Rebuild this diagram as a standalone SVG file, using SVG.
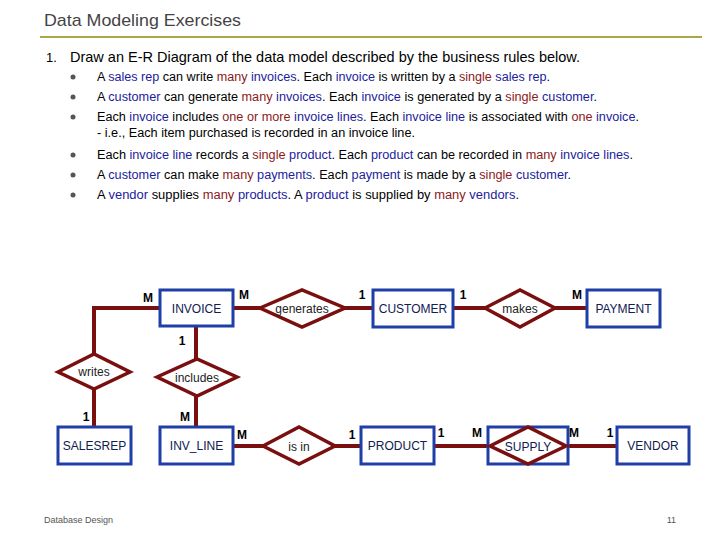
<svg xmlns="http://www.w3.org/2000/svg" width="720" height="540" viewBox="0 0 720 540">
<style>
.t{font-family:"Liberation Sans",sans-serif;fill:#000}
.b{fill:#1c1c9c}.r{fill:#8b1a1a}
.ent rect{fill:#fff;stroke:#1f3fa8;stroke-width:3}
.ent text{font-family:"Liberation Sans",sans-serif;font-size:12px;fill:#102050;text-anchor:middle}
.rel polygon{fill:#fff;stroke:#7a0f10;stroke-width:3.5}
.rel text{font-family:"Liberation Sans",sans-serif;font-size:12px;fill:#222;text-anchor:middle}
.c{stroke:#7a0f10;stroke-width:4;fill:none}
.k{font-family:"Liberation Sans",sans-serif;font-size:12px;fill:#000;font-weight:bold;text-anchor:middle}
</style>
<rect width="720" height="540" fill="#fff"/>
<text x="44" y="26" class="t" style="font-size:17px;fill:#444" textLength="197" lengthAdjust="spacingAndGlyphs">Data Modeling Exercises</text>
<line x1="40" y1="37" x2="702" y2="37" stroke="#a8a848" stroke-width="2"/>
<text x="46" y="62" class="t" style="font-size:13px">1.</text>
<text x="70" y="62" class="t" style="font-size:15px" textLength="510" lengthAdjust="spacingAndGlyphs">Draw an E-R Diagram of the data model described by the business rules below.</text>
<g class="t" style="font-size:12.5px">
<circle cx="73" cy="77" r="2.5" fill="#555"/><circle cx="73" cy="97" r="2.5" fill="#555"/><circle cx="73" cy="117" r="2.5" fill="#555"/><circle cx="73" cy="155" r="2.5" fill="#555"/><circle cx="73" cy="175" r="2.5" fill="#555"/><circle cx="73" cy="195" r="2.5" fill="#555"/>
<text x="97" y="81" textLength="453" lengthAdjust="spacingAndGlyphs">A <tspan class="b">sales rep</tspan> can write <tspan class="r">many</tspan> <tspan class="b">invoices</tspan>. Each <tspan class="b">invoice</tspan> is written by a <tspan class="r">single</tspan> <tspan class="b">sales rep</tspan>.</text>
<text x="97" y="101" textLength="500" lengthAdjust="spacingAndGlyphs">A <tspan class="b">customer</tspan> can generate <tspan class="r">many</tspan> <tspan class="b">invoices</tspan>. Each <tspan class="b">invoice</tspan> is generated by a <tspan class="r">single</tspan> <tspan class="b">customer</tspan>.</text>
<text x="97" y="121" textLength="542" lengthAdjust="spacingAndGlyphs">Each <tspan class="b">invoice</tspan> includes <tspan class="r">one or more</tspan> <tspan class="b">invoice lines</tspan>. Each <tspan class="b">invoice line</tspan> is associated with <tspan class="r">one</tspan> <tspan class="b">invoice</tspan>.</text>
<text x="97" y="137" textLength="318" lengthAdjust="spacingAndGlyphs">- i.e., Each item purchased is recorded in an invoice line.</text>
<text x="97" y="159" textLength="536" lengthAdjust="spacingAndGlyphs">Each <tspan class="b">invoice line</tspan> records a <tspan class="r">single</tspan> <tspan class="b">product</tspan>. Each <tspan class="b">product</tspan> can be recorded in <tspan class="r">many</tspan> <tspan class="b">invoice lines</tspan>.</text>
<text x="97" y="179" textLength="474" lengthAdjust="spacingAndGlyphs">A <tspan class="b">customer</tspan> can make <tspan class="r">many</tspan> <tspan class="b">payments</tspan>. Each <tspan class="b">payment</tspan> is made by a <tspan class="r">single</tspan> <tspan class="b">customer</tspan>.</text>
<text x="97" y="199" textLength="422" lengthAdjust="spacingAndGlyphs">A <tspan class="b">vendor</tspan> supplies <tspan class="r">many</tspan> <tspan class="b">products</tspan>.  A <tspan class="b">product</tspan> is supplied by <tspan class="r">many</tspan> <tspan class="b">vendors</tspan>.</text>
</g>
<g id="connectors">
<polyline class="c" points="94,354 94,308 160,308"/>
<line class="c" x1="233" y1="308" x2="373" y2="308"/>
<line class="c" x1="453" y1="308" x2="587" y2="308"/>
<line class="c" x1="196" y1="326" x2="196" y2="427"/>
<line class="c" x1="94" y1="389" x2="94" y2="427"/>
<line class="c" x1="233" y1="446" x2="361" y2="446"/>
<line class="c" x1="434" y1="446" x2="617" y2="446"/>
</g>
<g id="INVOICE" class="ent"><rect x="160" y="290" width="73" height="36"/><text x="196.5" y="313">INVOICE</text></g>
<g id="CUSTOMER" class="ent"><rect x="373" y="290" width="80" height="37"/><text x="413" y="313">CUSTOMER</text></g>
<g id="PAYMENT" class="ent"><rect x="587" y="290" width="73" height="37"/><text x="623.5" y="313">PAYMENT</text></g>
<g id="SALESREP" class="ent"><rect x="58" y="427" width="73" height="37"/><text x="94.5" y="450">SALESREP</text></g>
<g id="INV_LINE" class="ent"><rect x="160" y="427" width="73" height="37"/><text x="196.5" y="450">INV_LINE</text></g>
<g id="PRODUCT" class="ent"><rect x="361" y="427" width="73" height="37"/><text x="397.5" y="450">PRODUCT</text></g>
<g id="VENDOR" class="ent"><rect x="617" y="427" width="72" height="37"/><text x="653" y="450">VENDOR</text></g>
<g id="generates" class="rel"><polygon points="260,308 302,290 345,308 302,327"/><text x="302" y="313">generates</text></g>
<g id="makes" class="rel"><polygon points="485,308 520,290 555,308 520,327"/><text x="520" y="313">makes</text></g>
<g id="writes" class="rel"><polygon points="58,372 94,354 130,372 94,389"/><text x="94" y="376">writes</text></g>
<g id="includes" class="rel"><polygon points="157,377 197,359 237,377 197,396"/><text x="197" y="382">includes</text></g>
<g id="isin" class="rel"><polygon points="263,446 299,427 335,446 299,464"/><text x="299" y="451">is in</text></g>
<g id="SUPPLY" class="ent"><rect x="488" y="427" width="80" height="37"/></g>
<g id="SUPPLYrel" class="rel"><polygon points="490,446 528,427 566,446 528,464" style="fill:none"/><text x="528" y="451" style="fill:#102050">SUPPLY</text></g>
<g class="k">
<text x="148" y="302">M</text><text x="244" y="299">M</text><text x="362" y="299">1</text><text x="463" y="299">1</text><text x="577" y="299">M</text>
<text x="182" y="345">1</text><text x="185" y="421">M</text><text x="86" y="421">1</text>
<text x="242" y="439">M</text><text x="352" y="439">1</text><text x="441" y="437">1</text><text x="477" y="437">M</text><text x="574" y="437">M</text><text x="610" y="437">1</text>
</g>
<text x="44" y="523" class="t" style="font-size:9px;fill:#555">Database Design</text>
<text x="676" y="523" class="t" style="font-size:9px;fill:#555;text-anchor:end">11</text>
</svg>
